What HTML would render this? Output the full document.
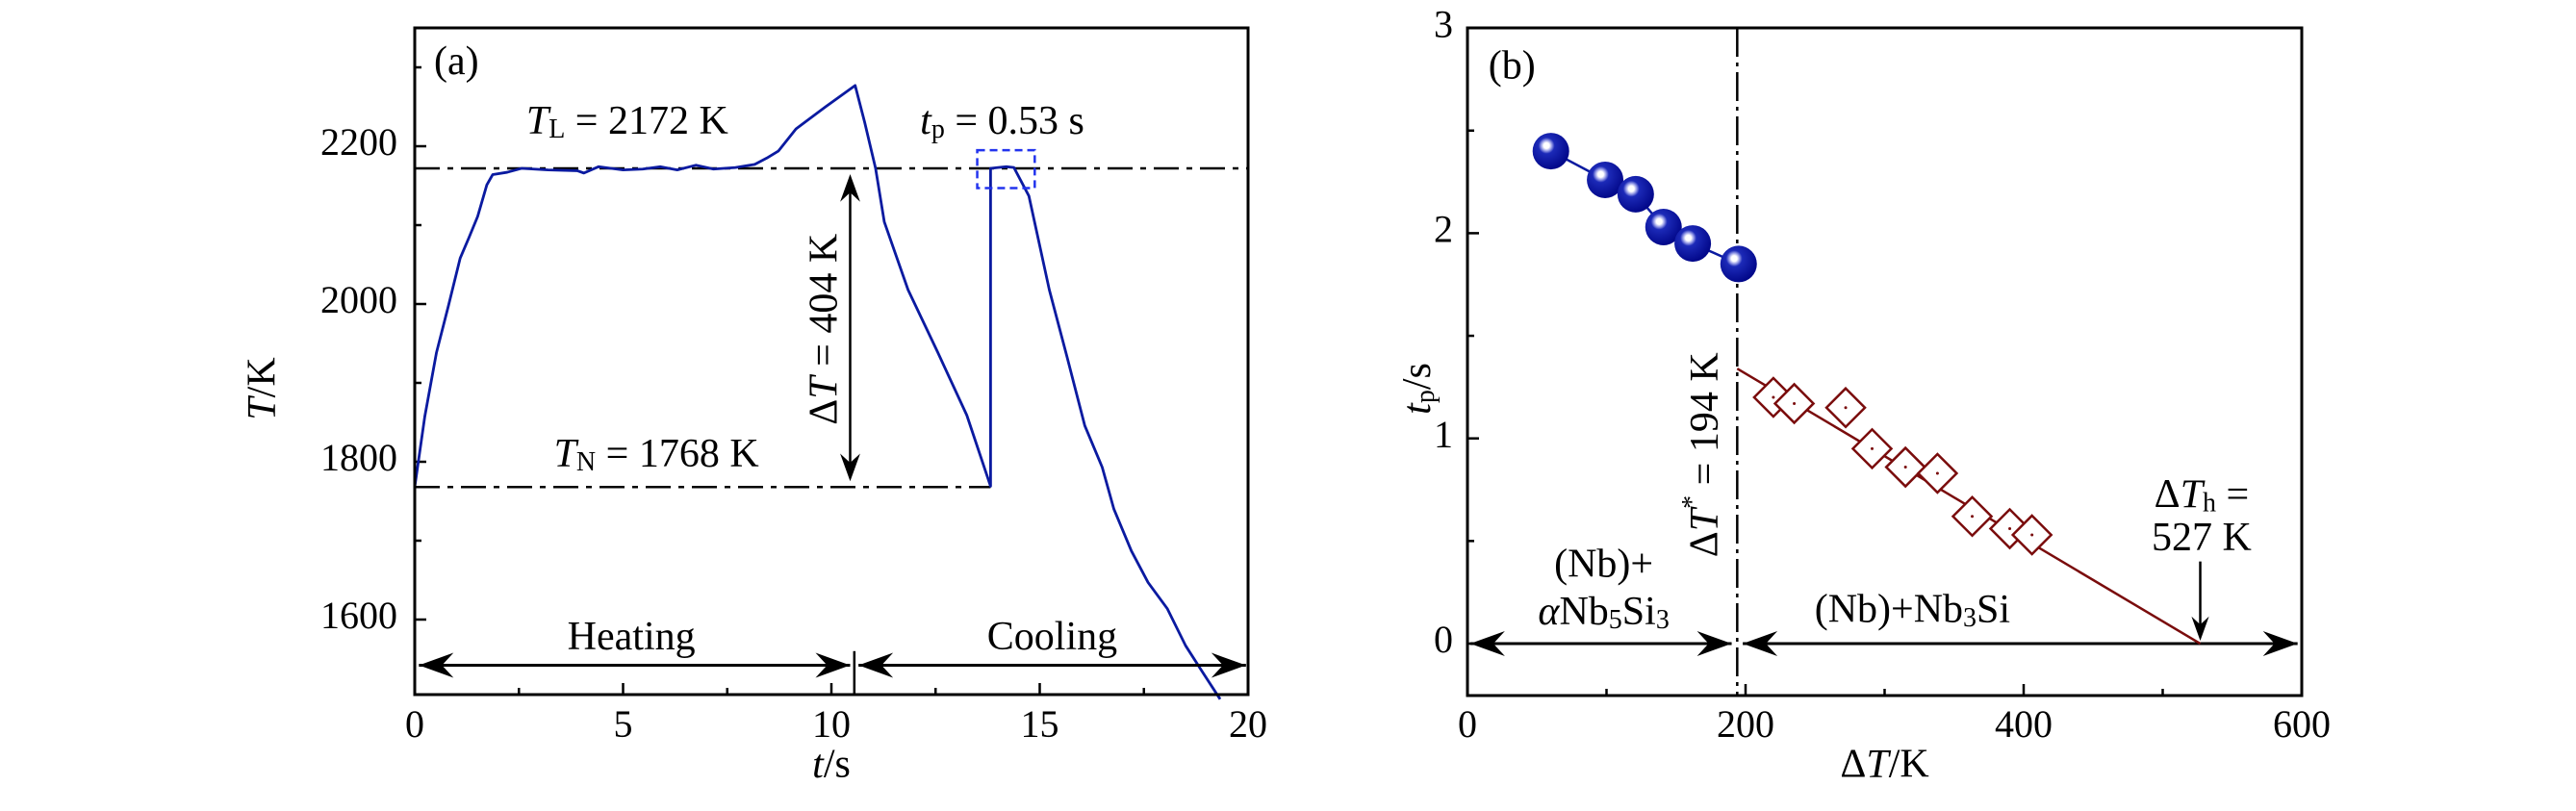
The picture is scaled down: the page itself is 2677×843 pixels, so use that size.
<!DOCTYPE html>
<html><head><meta charset="utf-8"><style>
html,body{margin:0;padding:0;background:#fff;}
svg{display:block;font-family:"Liberation Serif",serif;}
</style></head><body>
<svg id="fig" width="2677" height="843" viewBox="0 0 2677 843" xmlns="http://www.w3.org/2000/svg"></svg>
<script>
// Panel (a) data
const tA = [0,0.24,0.52,0.81,1.09,1.3,1.51,1.73,1.87,2.22,2.57,3.2,3.9,4.06,4.41,5.0,5.47,5.9,6.3,6.75,7.17,7.7,8.16,8.45,8.73,9.15,9.86,10.57,10.8,11.06,11.27,11.84,12.55,13.25,13.82,13.82,14.0,14.2,14.38,14.74,15.23,15.66,16.08,16.5,16.78,17.2,17.6,18.06,18.5,18.9,19.33];
const TA = [1768,1857,1938,1998,2058,2084,2111,2151,2164,2167,2172,2170,2169,2166,2174,2170,2171,2174,2170,2176,2171,2173,2177,2185,2194,2222,2250,2277,2230,2172,2104,2018,1939,1859,1769,2172,2173,2174,2173,2137,2018,1932,1846,1793,1740,1687,1647,1614,1567,1534,1499];
const xTicksA = [0,5,10,15,20];
const yTicksA = [1600,1800,2000,2200];
const TL = 2172, TN = 1768;
// Panel (b) data
const dtBlue = [60,99,121,141,162,195];
const tpBlue = [2.40,2.26,2.19,2.03,1.95,1.85];
const dtRed = [220,235,272,291,315,338,363,390,406];
const tpRed = [1.20,1.17,1.15,0.95,0.86,0.83,0.62,0.56,0.53];
const fitRed = [[194,1.34],[527,0]];
const xTicksB = [0,200,400,600];
const yTicksB = [0,1,2,3];
const dtStar = 194, dtH = 527;

const svg = document.getElementById('fig');
const NS = 'http://www.w3.org/2000/svg';
function mk(tag, attrs, name, parent){
  const e = document.createElementNS(NS, tag);
  for (const k in attrs) e.setAttribute(k, attrs[k]);
  
  
  (parent||svg).appendChild(e);
  return e;
}
function txt(x,y,html,name,opts){
  const t = mk('text',Object.assign({x:x,y:y,'font-size':42,'text-anchor':'middle','dominant-baseline':'middle',fill:'#000'},opts||{}),name);
  t.innerHTML = html;
  return t;
}
function head(x,y,dx,dy,name,s){
  s = s||1;
  const L=36*s, W=13*s, I=24*s;
  const px=-dy, py=dx;
  const p = [[x,y],[x-dx*L+px*W,y-dy*L+py*W],[x-dx*I,y-dy*I],[x-dx*L-px*W,y-dy*L-py*W]];
  mk('path',{d:'M'+p.map(q=>q.join(',')).join(' L')+' Z',fill:'#000'},name);
}
function arrowH(x1,x2,y,both,name){
  mk('line',{x1:x1,y1:y,x2:x2,y2:y,stroke:'#000','stroke-width':3},name+'-line');
  head(x2,y,1,0,name+'-head-right');
  if(both) head(x1,y,-1,0,name+'-head-left');
}

// ===== Panel (a) =====
const aL=431,aR=1297,aT=29,aB=722;
const xA = t => aL + (t-0)/20*(aR-aL);
const yA = v => 152 + (2200-v)*0.82;
for(let v=1600; v<=2300; v+=100){
  const major = yTicksA.includes(v);
  mk('line',{x1:aL,y1:yA(v),x2:aL+(major?12:7),y2:yA(v),stroke:'#000','stroke-width':2.5},'y-tick-a');
}
yTicksA.forEach(v=>txt(aL-18,yA(v),v,'y-tick-label-a',{'text-anchor':'end','font-size':40}));
for(let t=0;t<=20;t+=2.5){
  const major = xTicksA.includes(t);
  mk('line',{x1:xA(t),y1:aB,x2:xA(t),y2:aB-(major?12:7),stroke:'#000','stroke-width':2.5},'x-tick-a');
}
xTicksA.forEach(t=>txt(xA(t),757,t,'x-tick-label-a',{'font-size':40}));
txt(xA(10),798,'<tspan font-style="italic">t</tspan>/s','x-axis-title-a',{'font-size':42});
txt(276,404,'<tspan font-style="italic">T</tspan>/K','y-axis-title-a',{'font-size':42,transform:'rotate(-90 276 404)'});
mk('line',{x1:aL,y1:yA(TL),x2:aR,y2:yA(TL),stroke:'#000','stroke-width':2.5,'stroke-dasharray':'26,8,6,8'},'tl-line');
mk('line',{x1:aL,y1:yA(TN),x2:xA(13.82),y2:yA(TN),stroke:'#000','stroke-width':2.5,'stroke-dasharray':'26,8,6,8'},'tn-line');
mk('polyline',{points:tA.map((t,i)=>xA(t)+','+yA(TA[i])).join(' '),fill:'none',stroke:'#0a1aa0','stroke-width':2.8,'stroke-linejoin':'round'},'temperature-curve');
mk('rect',{x:xA(13.5),y:yA(2195),width:xA(14.88)-xA(13.5),height:yA(2147)-yA(2195),fill:'none',stroke:'#2233ee','stroke-width':2.5,'stroke-dasharray':'8,5'},'plateau-box');
{const x=xA(10.45);
 mk('line',{x1:x,y1:yA(TL)+10,x2:x,y2:yA(TN)-10,stroke:'#000','stroke-width':2.5},'delta-t-arrow-line');
 head(x,yA(TL)+6,0,-1,'delta-t-arrow-top',0.8); head(x,yA(TN)-6,0,1,'delta-t-arrow-bottom',0.8);}
arrowH(xA(0.1),xA(10.45),yA(1542),true,'heating-arrow');
arrowH(xA(10.65),xA(19.95),yA(1542),true,'cooling-arrow');
mk('line',{x1:xA(10.55),y1:yA(1560),x2:xA(10.55),y2:aB,stroke:'#000','stroke-width':2.5},'phase-divider');
mk('rect',{x:aL,y:aT,width:aR-aL,height:aB-aT,fill:'none',stroke:'#000','stroke-width':3},'plot-frame-a');
txt(xA(1.0),yA(2303),'(a)','panel-label-a');
txt(xA(5.1),yA(2228),'<tspan font-style="italic">T</tspan><tspan font-size="28" dy="8">L</tspan><tspan dy="-8"> = 2172  K</tspan>','tl-label');
txt(xA(14.1),yA(2228),'<tspan font-style="italic">t</tspan><tspan font-size="28" dy="8">p</tspan><tspan dy="-8"> = 0.53  s</tspan>','tp-label');
txt(xA(5.8),yA(1806),'<tspan font-style="italic">T</tspan><tspan font-size="28" dy="8">N</tspan><tspan dy="-8"> = 1768  K</tspan>','tn-label');
txt(xA(9.9),yA(1968),'Δ<tspan font-style="italic">T</tspan> = 404  K','delta-t-label',{transform:'rotate(-90 '+xA(9.9)+' '+yA(1968)+')'});
txt(xA(5.2),yA(1574),'Heating','heating-label');
txt(xA(15.3),yA(1574),'Cooling','cooling-label');

// ===== Panel (b) =====
const bL=1525,bR=2392,bT=29,bB=723;
const xB = d => bL + d/600*(bR-bL);
const yB = v => 669 - v*213.3;
for(let v=0; v<=3; v+=0.5){
  const major = yTicksB.includes(v);
  mk('line',{x1:bL,y1:yB(v),x2:bL+(major?12:7),y2:yB(v),stroke:'#000','stroke-width':2.5},'y-tick-b');
}
yTicksB.forEach(v=>txt(bL-25,yB(v),v,'y-tick-label-b',{'font-size':40}));
for(let d=0; d<=600; d+=100){
  const major = xTicksB.includes(d);
  mk('line',{x1:xB(d),y1:bB,x2:xB(d),y2:bB-(major?12:7),stroke:'#000','stroke-width':2.5},'x-tick-b');
}
xTicksB.forEach(d=>txt(xB(d),757,d,'x-tick-label-b',{'font-size':40}));
txt(xB(300),798,'Δ<tspan font-style="italic">T</tspan>/K','x-axis-title-b');
txt(1476,404,'<tspan font-style="italic">t</tspan><tspan font-size="28" dy="8">p</tspan><tspan dy="-8">/s</tspan>','y-axis-title-b',{transform:'rotate(-90 1476 404)'});
mk('line',{x1:xB(dtStar),y1:bT,x2:xB(dtStar),y2:bB,stroke:'#000','stroke-width':2.5,'stroke-dasharray':'30,6,4,6'},'critical-undercooling-line');
arrowH(xB(2),xB(190),yB(0),true,'alpha-region-arrow');
arrowH(xB(198),xB(597),yB(0),true,'nb3si-region-arrow');
mk('polyline',{points:dtBlue.map((d,i)=>xB(d)+','+yB(tpBlue[i])).join(' '),fill:'none',stroke:'#0a1aa0','stroke-width':2.5},'blue-fit-line');
mk('line',{x1:xB(fitRed[0][0]),y1:yB(fitRed[0][1]),x2:xB(fitRed[1][0]),y2:yB(fitRed[1][1]),stroke:'#7a0c0c','stroke-width':2.5},'red-fit-line');
const defs = mk('defs',{},'defs');
const g = mk('radialGradient',{id:'ball',cx:'0.38',cy:'0.35',r:'0.65'},'ball-gradient',defs);
[['0','#ffffff'],['0.12','#ffffff'],['0.22','#9aa0e8'],['0.34','#1c2ab8'],['1','#02088a']].forEach(s=>mk('stop',{offset:s[0],'stop-color':s[1]},'gradient-stop',g));
dtBlue.forEach((d,i)=>mk('circle',{cx:xB(d),cy:yB(tpBlue[i]),r:19,fill:'url(#ball)'},'blue-point'));
dtRed.forEach((d,i)=>{
  const cx=xB(d), cy=yB(tpRed[i]), s=20;
  mk('path',{d:`M${cx},${cy-s} L${cx+s},${cy} L${cx},${cy+s} L${cx-s},${cy} Z`,fill:'#fff',stroke:'#7a0c0c','stroke-width':2.5},'red-point');
  mk('circle',{cx:cx,cy:cy,r:1.5,fill:'#7a0c0c'},'red-point-center');
});
mk('line',{x1:xB(dtH),y1:yB(0.4),x2:xB(dtH),y2:yB(0)-8,stroke:'#000','stroke-width':2.5},'th-arrow-line');
head(xB(dtH),yB(0)-3,0,1,'th-arrow-head',0.7);
mk('rect',{x:bL,y:bT,width:bR-bL,height:bB-bT,fill:'none',stroke:'#000','stroke-width':3},'plot-frame-b');
txt(xB(32),yB(2.8),'(b)','panel-label-b');
txt(xB(98),yB(0.37),'(Nb)+','alpha-phase-label-1');
txt(xB(98),yB(0.14),'<tspan font-style="italic">α</tspan>Nb<tspan font-size="28" dy="8">5</tspan><tspan dy="-8">Si</tspan><tspan font-size="28" dy="8">3</tspan>','alpha-phase-label-2');
txt(xB(320),yB(0.15),'(Nb)+Nb<tspan font-size="28" dy="8">3</tspan><tspan dy="-8">Si</tspan>','nb3si-phase-label');
txt(xB(528),yB(0.71),'Δ<tspan font-style="italic">T</tspan><tspan font-size="28" dy="8">h</tspan><tspan dy="-8"> =</tspan>','th-label-1');
txt(xB(528),yB(0.5),'527  K','th-label-2');
txt(xB(173),yB(0.92),'Δ<tspan font-style="italic">T</tspan><tspan font-size="28" dy="-14">*</tspan><tspan dy="14"> = 194  K</tspan>','dt-star-label',{transform:'rotate(-90 '+xB(173)+' '+yB(0.92)+')'});
</script>
</body></html>
